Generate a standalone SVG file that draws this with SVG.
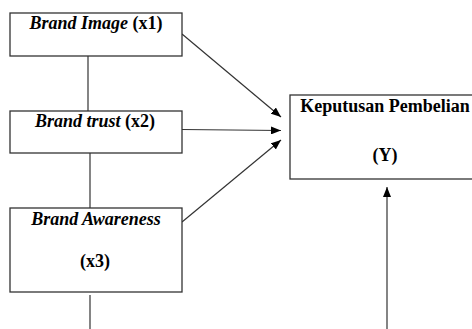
<svg xmlns="http://www.w3.org/2000/svg" width="472" height="329" viewBox="0 0 472 329">
<defs>
<marker id="ah" viewBox="0 0 10 8" refX="10" refY="4" markerWidth="10" markerHeight="8" markerUnits="userSpaceOnUse" orient="auto">
<path d="M0,0 L10,4 L0,8 Z" fill="#000"/>
</marker>
<style>
.box{fill:#fff;stroke:#333;stroke-width:1.3}
.t{font-size:18px;font-weight:bold;fill:#000;text-anchor:middle}
.i{font-style:italic}
.ln{stroke:#333;stroke-width:1.2;fill:none}
.ar{stroke:#333;stroke-width:1.2;fill:none;marker-end:url(#ah)}
</style>
</defs>
<rect width="472" height="329" fill="#fff"/>
<g id="connectors">
<line class="ln" x1="88" y1="56" x2="88" y2="111"/>
<line class="ln" x1="90" y1="153" x2="90" y2="208"/>
<line class="ln" x1="90" y1="295" x2="90" y2="329"/>
<line class="ar" x1="182" y1="34" x2="281" y2="117"/>
<line class="ar" x1="182" y1="129.5" x2="281" y2="130.5"/>
<line class="ar" x1="182" y1="222" x2="281" y2="140"/>
<line class="ar" x1="387" y1="329" x2="387" y2="187"/>
</g>
<g font-family="Liberation Serif, serif">
<g id="x1">
<rect class="box" x="10" y="13" width="172" height="43"/>
<text class="t" x="96" y="29"><tspan class="i">Brand Image</tspan> (x1)</text>
</g>
<g id="x2">
<rect class="box" x="10" y="111" width="172" height="42"/>
<text class="t" x="95" y="127"><tspan class="i">Brand trust</tspan> (x2)</text>
</g>
<g id="x3">
<rect class="box" x="10" y="208" width="172" height="84"/>
<text class="t i" x="96" y="225">Brand Awareness</text>
<text class="t" x="95" y="267">(x3)</text>
</g>
<g id="y">
<rect class="box" x="290" y="95" width="190" height="84"/>
<text class="t" x="385" y="112">Keputusan Pembelian</text>
<text class="t" x="385" y="161">(Y)</text>
</g>
</g>
</svg>
